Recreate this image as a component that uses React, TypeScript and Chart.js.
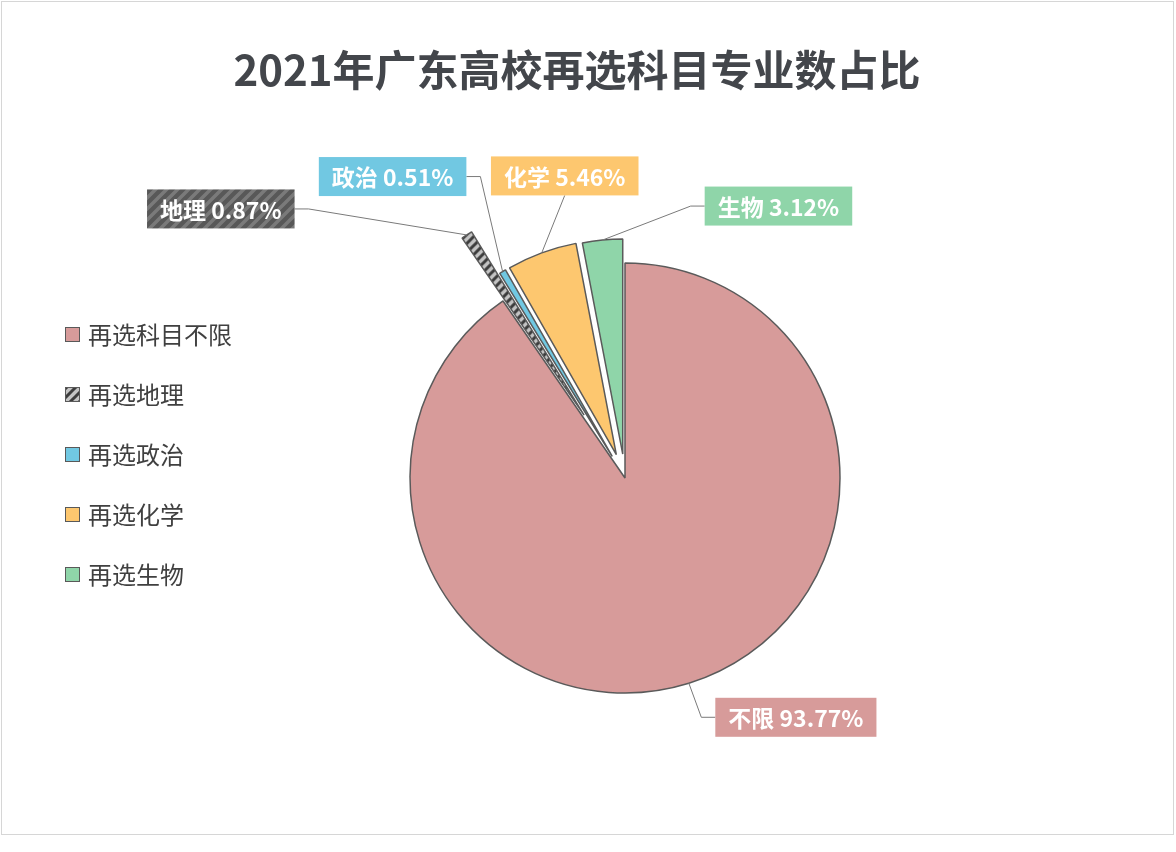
import React, { useEffect, useRef } from 'react';
import { Chart, registerables } from 'chart.js';

Chart.register(...registerables);

// ---------- data ----------
const TITLE = '2021年广东高校再选科目专业数占比';
const CATEGORIES = ['再选科目不限', '再选地理', '再选政治', '再选化学', '再选生物'];
const SHORT_NAMES = ['不限', '地理', '政治', '化学', '生物'];
const SHARES = [93.77, 0.87, 0.51, 5.46, 3.12];

// ---------- styles ----------
const FONT = '"Noto Sans CJK SC", "Noto Sans", sans-serif';
const SOLID = ['#d79b9a', '#5b5b5b', '#71c8e2', '#fdc76f', '#8fd5a9'];
const EXPLODE = [0, 75, 25, 25, 24];
const LABEL_SHIFT: [number, number][] = [
  [107, 34],
  [-246, -26],
  [-110, -95],
  [23, -77],
  [176, -34],
];

function makePattern(bg: string, fg: string, size: number, lw: number) {
  const c = document.createElement('canvas');
  c.width = size;
  c.height = size;
  const g = c.getContext('2d')!;
  g.fillStyle = bg;
  g.fillRect(0, 0, size, size);
  g.strokeStyle = fg;
  g.lineWidth = lw;
  g.beginPath();
  g.moveTo(-size / 2, size / 2);
  g.lineTo(size / 2, -size / 2);
  g.moveTo(0, size);
  g.lineTo(size, 0);
  g.moveTo(size / 2, size * 1.5);
  g.lineTo(size * 1.5, size / 2);
  g.stroke();
  return g.createPattern(c, 'repeat')!;
}

export default function App() {
  const ref = useRef<HTMLCanvasElement | null>(null);

  useEffect(() => {
    const canvas = ref.current!;
    const ctx0 = canvas.getContext('2d')!;
    const slicePattern = makePattern('#c4c4c4', '#3c3c3c', 9, 3);
    const labelPattern = makePattern('#585858', '#7a7a7a', 11, 3.5);
    const fills: (string | CanvasPattern)[] = SOLID.map((c, i) => (i === 1 ? slicePattern : c));
    const labelFills: (string | CanvasPattern)[] = SOLID.map((c, i) => (i === 1 ? labelPattern : c));

    const explodePlugin = {
      id: 'explode',
      beforeDatasetsDraw(chart: any) {
        const meta = chart.getDatasetMeta(0);
        meta.data.forEach((el: any, i: number) => {
          if (el.__wrapped) return;
          const orig = el.draw.bind(el);
          el.draw = (ctx: CanvasRenderingContext2D, area: any) => {
            const a = (el.startAngle + el.endAngle) / 2;
            const d = EXPLODE[i] || 0;
            ctx.save();
            ctx.translate(Math.cos(a) * d, Math.sin(a) * d);
            orig(ctx, area);
            ctx.restore();
          };
          el.__wrapped = true;
        });
      },
    };

    const labelPlugin = {
      id: 'callouts',
      afterDatasetsDraw(chart: any) {
        const ctx: CanvasRenderingContext2D = chart.ctx;
        const meta = chart.getDatasetMeta(0);
        meta.data.forEach((el: any, i: number) => {
          const p = el.getProps(['x', 'y', 'startAngle', 'endAngle', 'outerRadius'], true);
          const a = (p.startAngle + p.endAngle) / 2;
          const r = p.outerRadius + (EXPLODE[i] || 0);
          const ax = p.x + Math.cos(a) * r;
          const ay = p.y + Math.sin(a) * r;
          const cx = ax + LABEL_SHIFT[i][0];
          const cy = ay + LABEL_SHIFT[i][1];
          const text = `${SHORT_NAMES[i]} ${SHARES[i].toFixed(2)}%`;
          ctx.save();
          ctx.font = `bold 23px ${FONT}`;
          const tw = ctx.measureText(text).width;
          const bw = tw + 26;
          const bh = 39;
          const left = cx - bw / 2;
          const top = cy - bh / 2;
          // leader line
          ctx.strokeStyle = '#7a7a7a';
          ctx.lineWidth = 1;
          ctx.beginPath();
          ctx.moveTo(ax, ay);
          const dx = LABEL_SHIFT[i][0];
          if (Math.abs(dx) > bw / 2) {
            const edge = dx > 0 ? left : left + bw;
            const elbow = dx > 0 ? edge - 14 : edge + 14;
            ctx.lineTo(elbow, cy);
            ctx.lineTo(edge, cy);
          } else {
            ctx.lineTo(cx, LABEL_SHIFT[i][1] < 0 ? top + bh : top);
          }
          ctx.stroke();
          // box
          ctx.fillStyle = labelFills[i] as any;
          ctx.fillRect(left, top, bw, bh);
          // text
          ctx.fillStyle = '#ffffff';
          ctx.textAlign = 'center';
          ctx.textBaseline = 'middle';
          ctx.fillText(text, cx, cy + 1);
          ctx.restore();
        });
      },
    };

    const decorPlugin = {
      id: 'decor',
      afterDraw(chart: any) {
        const ctx: CanvasRenderingContext2D = chart.ctx;
        ctx.save();
        // title
        ctx.fillStyle = '#43464b';
        ctx.font = `bold 42px ${FONT}`;
        ctx.textAlign = 'center';
        ctx.textBaseline = 'middle';
        ctx.fillText(TITLE, 575, 68);
        // legend
        ctx.font = `24px ${FONT}`;
        ctx.textAlign = 'left';
        CATEGORIES.forEach((name, i) => {
          const y = 333 + i * 60;
          ctx.fillStyle = fills[i] as any;
          ctx.fillRect(63, y - 8, 15, 15);
          ctx.strokeStyle = '#595959';
          ctx.lineWidth = 1;
          ctx.strokeRect(63.5, y - 7.5, 14, 14);
          ctx.fillStyle = '#404040';
          ctx.fillText(name, 86, y);
        });
        ctx.restore();
      },
    };

    const chart = new Chart(ctx0, {
      type: 'pie',
      data: {
        labels: CATEGORIES,
        datasets: [
          {
            data: SHARES,
            backgroundColor: fills as any,
            borderColor: '#5a5a5a',
            borderWidth: 1.5,
            clip: false as any,
          },
        ],
      },
      options: {
        responsive: false,
        animation: false,
        events: [],
        radius: 215,
        layout: { padding: { left: 75, top: 120, right: 0, bottom: 0 } },
        plugins: {
          legend: { display: false },
          title: { display: false },
          tooltip: { enabled: false },
        },
      } as any,
      plugins: [explodePlugin, labelPlugin, decorPlugin],
    });
    return () => chart.destroy();
  }, []);

  return (
    <div style={{ position: 'fixed', left: 0, top: 0, width: 1176, height: 852, background: '#ffffff' }}>
      <div
        style={{
          position: 'absolute',
          left: 1,
          top: 1,
          width: 1173,
          height: 834,
          border: '1px solid #d6d6d6',
          boxSizing: 'border-box',
          background: '#ffffff',
        }}
      >
        <canvas ref={ref} width={1171} height={832} style={{ display: 'block', width: 1171, height: 832 }} />
      </div>
    </div>
  );
}
